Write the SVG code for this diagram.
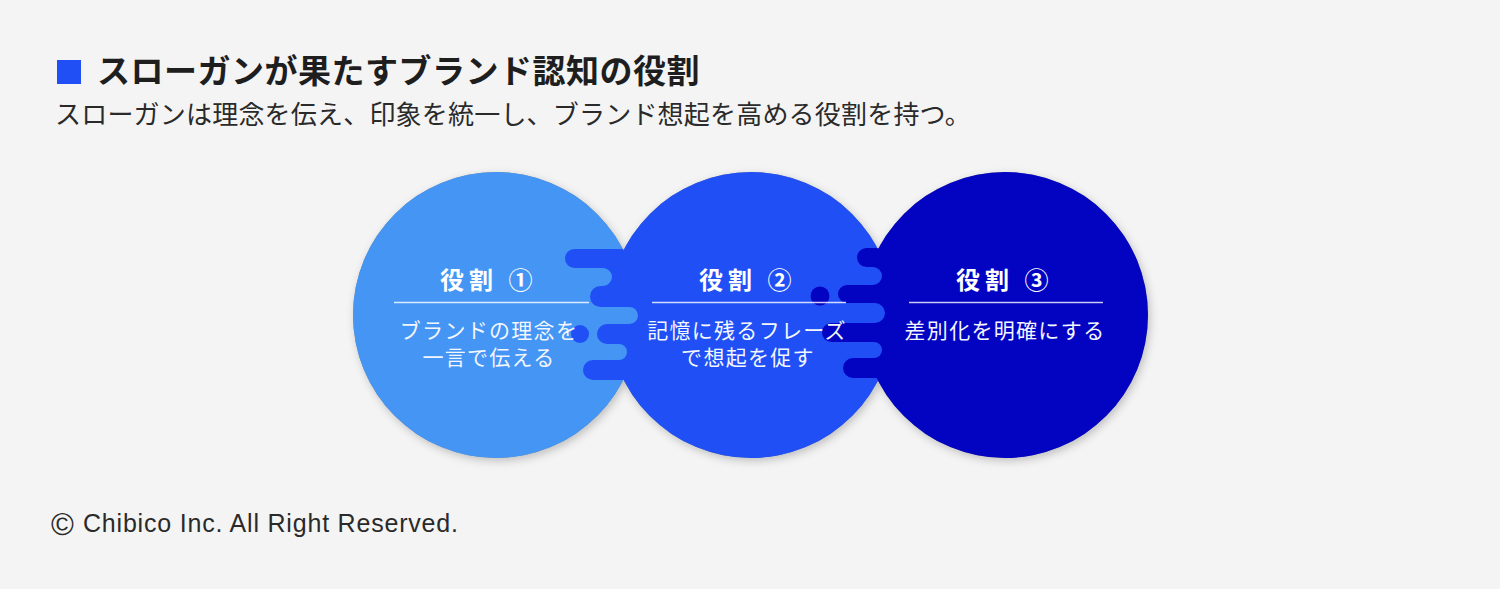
<svg xmlns="http://www.w3.org/2000/svg" width="1500" height="589" viewBox="0 0 1500 589">
<style>
.c1{fill:#4595f4}
.c2{fill:#1f4ff5}
.c3{fill:#0303c2}
.title{font-family:"Noto Sans CJK JP","Noto Sans",sans-serif;font-weight:700;font-size:33px;fill:#1e1e1e;letter-spacing:0.5px}
.sub{font-family:"Noto Sans CJK JP","Noto Sans",sans-serif;font-weight:400;font-size:26px;fill:#2a2a2a;letter-spacing:0.2px}
.head{font-family:"Noto Sans CJK JP","Noto Sans",sans-serif;font-weight:700;font-size:24px;fill:#ffffff;letter-spacing:5px}
.body{font-family:"Noto Sans CJK JP","Noto Sans",sans-serif;font-weight:400;font-size:21px;fill:#f2f6ff;letter-spacing:1.3px;text-anchor:middle}
.rule{stroke:#ffffff;stroke-opacity:0.8;stroke-width:1.5}
.foot{font-family:"Liberation Sans",Arial,sans-serif;font-size:25px;fill:#2a2a2a;letter-spacing:0.8px}
</style>
<defs>
<filter id="shadow" x="-20%" y="-20%" width="140%" height="140%">
<feDropShadow dx="2" dy="3" stdDeviation="4" flood-color="#000000" flood-opacity="0.22"/>
</filter>
<clipPath id="clip12"><circle cx="496" cy="315" r="143"/><circle cx="751" cy="315" r="143"/></clipPath>
<clipPath id="clip23"><circle cx="751" cy="315" r="143"/><circle cx="1005" cy="315" r="143"/></clipPath>
</defs>
<rect x="0" y="0" width="1500" height="589" fill="#f4f4f4"/>
<g id="heading">
<rect x="57" y="60" width="24" height="24" class="c2"/>
<text x="97" y="83" class="title">スローガンが果たすブランド認知の役割</text>
<text x="55" y="124" class="sub">スローガンは理念を伝え、印象を統一し、ブランド想起を高める役割を持つ。</text>
</g>
<g id="shadows" filter="url(#shadow)">
<circle cx="496" cy="315" r="143" fill="#888"/>
<circle cx="751" cy="315" r="143" fill="#888"/>
<circle cx="1005" cy="315" r="143" fill="#888"/>
</g>
<g id="shapes">
<g id="role1-shape"><circle cx="496" cy="315" r="143" class="c1"/></g>
<g id="role2-shape">
<circle cx="751" cy="315" r="143" class="c2"/>
<g clip-path="url(#clip12)">
<rect x="540" y="249" width="160" height="131" class="c1"/>
<path class="c2" d="M700,249 H574.5 A9.5,9.5 0 0 0 574.5,268 H603 A9,9 0 0 1 603,286 H600.5 A10.5,10.5 0 0 0 600.5,307 H629.5 A8.5,8.5 0 0 1 629.5,324 H607 A10,10 0 0 0 607,344 H619 A8,8 0 0 1 619,360 H593 A10,10 0 0 0 593,380 H700 Z"/>
</g>
<circle cx="580" cy="334" r="9" class="c2"/>
</g>
<g id="role3-shape">
<circle cx="1005" cy="315" r="143" class="c3"/>
<g clip-path="url(#clip23)">
<rect x="800" y="248" width="160" height="130" class="c2"/>
<path class="c3" d="M960,248 H866.5 A9.5,9.5 0 0 0 866.5,267 H873 A9,9 0 0 1 873,285 H847 A9,9 0 0 0 847,303 H875 A10,10 0 0 1 875,323 H831.5 A9.5,9.5 0 0 0 831.5,342 H874 A8,8 0 0 1 874,358 H853 A10,10 0 0 0 853,378 H960 Z"/>
</g>
<circle cx="820" cy="296" r="9.5" class="c3"/>
</g>
</g>
<g id="role1">
<text x="440" y="289" class="head">役割 ①</text>
<line x1="394" y1="302.5" x2="589" y2="302.5" class="rule"/>
<text x="489" y="338" class="body">ブランドの理念を</text>
<text x="489" y="365" class="body">一言で伝える</text>
</g>
<g id="role2">
<text x="699" y="289" class="head">役割 ②</text>
<line x1="652" y1="302.5" x2="846" y2="302.5" class="rule"/>
<text x="747" y="338" class="body">記憶に残るフレーズ</text>
<text x="748" y="365" class="body">で想起を促す</text>
</g>
<g id="role3">
<text x="956" y="289" class="head">役割 ③</text>
<line x1="909" y1="302.5" x2="1103" y2="302.5" class="rule"/>
<text x="1005" y="338" class="body">差別化を明確にする</text>
</g>
<g id="footer">
<text x="51" y="535" class="foot" style="font-size:31px;letter-spacing:0">©</text>
<text x="83" y="532" class="foot">Chibico Inc. All Right Reserved.</text>
</g>
</svg>
